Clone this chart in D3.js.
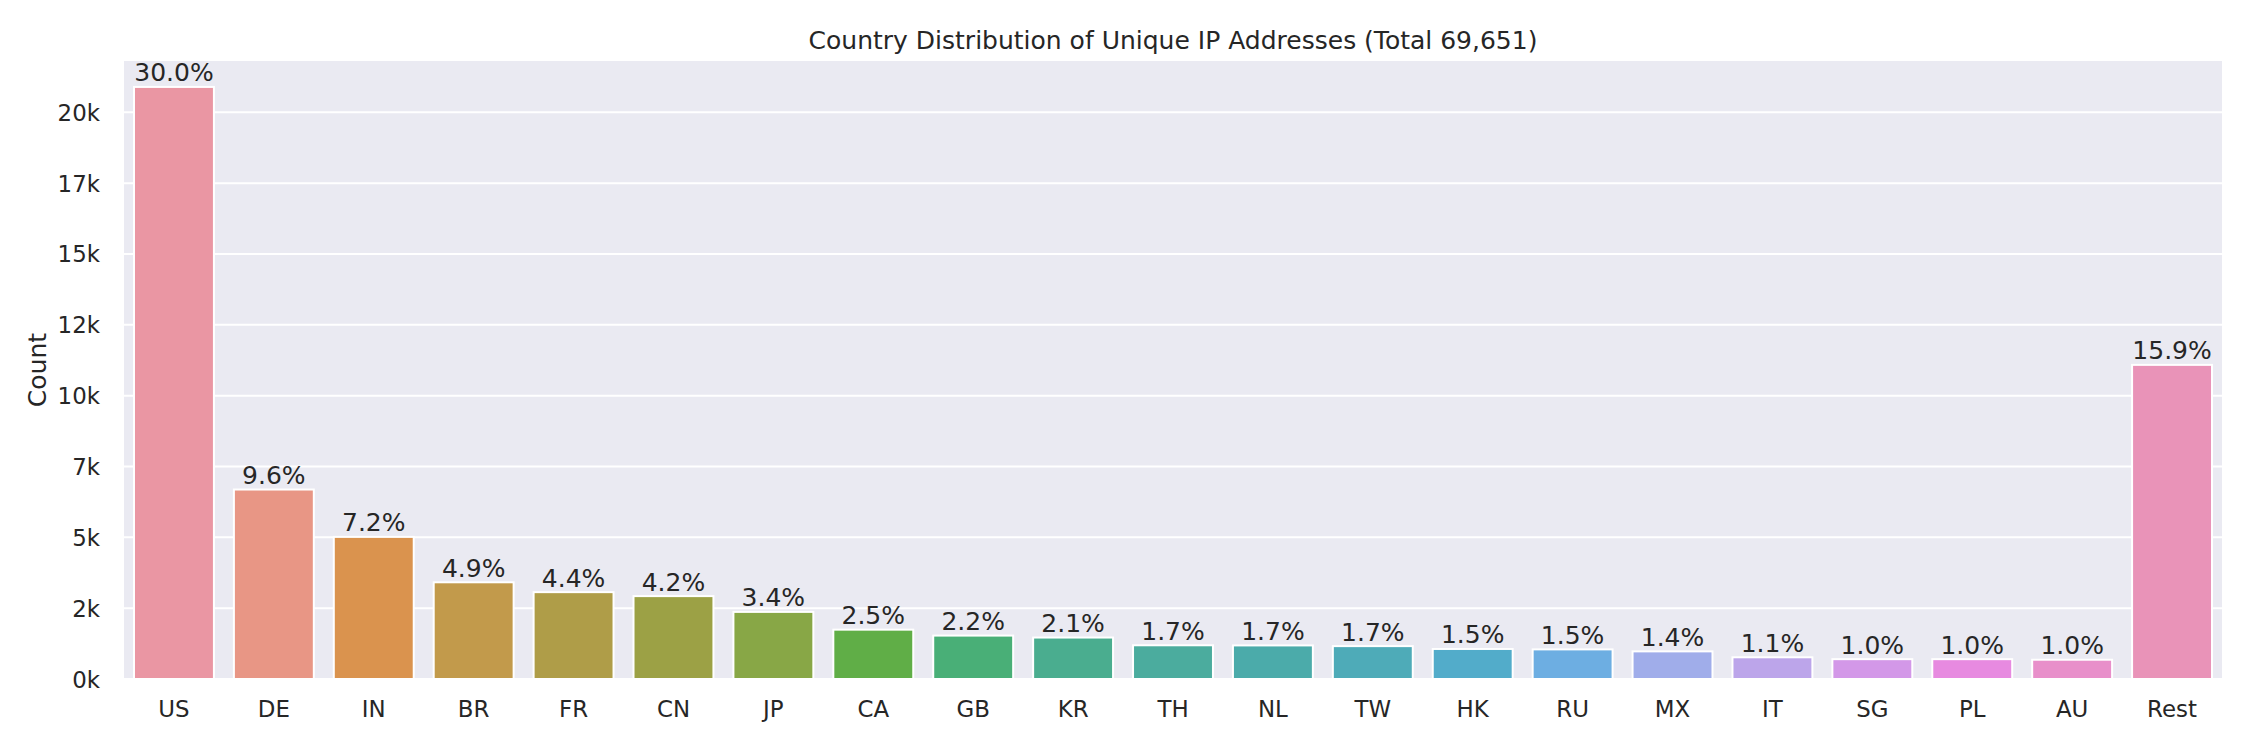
<!DOCTYPE html>
<html>
<head>
<meta charset="utf-8">
<script src="https://cdn.jsdelivr.net/npm/d3@7"></script>
<style>
  html, body { margin: 0; padding: 0; background: #ffffff; }
  svg { display: block; font-family: "DejaVu Sans", sans-serif; }
</style>
</head>
<body>
<svg id="chart" width="2250" height="750"></svg>
<script>
// ---- data ----
const categories = ["US","DE","IN","BR","FR","CN","JP","CA","GB","KR","TH","NL","TW","HK","RU","MX","IT","SG","PL","AU","Rest"];
const counts = [20895,6687,5015,3413,3065,2925,2368,1741,1532,1463,1190,1185,1160,1060,1045,975,766,700,700,680,11086];
const yTickValues = [0,2500,5000,7500,10000,12500,15000,17500,20000];
const yTickLabels = ["0k","2k","5k","7k","10k","12k","15k","17k","20k"];
const yMax = 21810;
const titleText = "Country Distribution of Unique IP Addresses (Total 69,651)";
const yLabel = "Count";

// ---- husl palette (seaborn style) ----
const M = [[3.2406,-1.5372,-0.4986],[-0.9689,1.8758,0.0415],[0.0557,-0.2040,1.0570]];
const refU = 0.19784, refV = 0.46834;
function maxChroma(L, H) {
  const hr = H * Math.PI / 180, sinH = Math.sin(hr), cosH = Math.cos(hr);
  const sub1 = Math.pow(L + 16, 3) / 1560896.0;
  const sub2 = sub1 > 0.008856 ? sub1 : L / 903.3;
  let result = Infinity;
  for (const [m1, m2, m3] of M) {
    const top = (0.99915*m1 + 1.05122*m2 + 1.14460*m3) * sub2;
    const rb = 0.86330*m3 - 0.17266*m2;
    const lb = 0.12949*m3 - 0.38848*m1;
    const bottom = (rb*sinH + lb*cosH) * sub2;
    for (const t of [0, 1]) {
      const C = L * (top - 1.05122*t) / (bottom + 0.17266*sinH*t);
      if (C > 0 && C < result) result = C;
    }
  }
  return result;
}
function fInv(t) { return Math.pow(t,3) > 0.008856 ? Math.pow(t,3) : (116*t - 16)/903.3; }
function fromLinear(c) { return c <= 0.0031308 ? 12.92*c : 1.055*Math.pow(c, 1/2.4) - 0.055; }
function huslToRgb(H, S, L) {
  const C = maxChroma(L, H) / 100 * S;
  const hr = H * Math.PI / 180;
  const U = Math.cos(hr)*C, V = Math.sin(hr)*C;
  const Y = fInv((L + 16)/116);
  const vU = U/(13*L) + refU, vV = V/(13*L) + refV;
  const X = 0 - (9*Y*vU)/((vU - 4)*vV - vU*vV);
  const Z = (9*Y - 15*vV*Y - vV*X)/(3*vV);
  return M.map(r => Math.min(1, Math.max(0, fromLinear(r[0]*X + r[1]*Y + r[2]*Z))));
}
function desaturate(rgb, prop) {
  const c = d3.hsl(d3.rgb(rgb[0]*255, rgb[1]*255, rgb[2]*255));
  c.s = c.s * prop;
  return c.formatHex();
}
function huslPalette(n, l) {
  const out = [];
  for (let i = 0; i < n; i++) {
    const h = (i / n + 0.01) % 1;
    out.push(desaturate(huslToRgb(h*359, 0.9*99, l*99), 0.75));
  }
  return out;
}
const colors = huslPalette(categories.length, 0.70);

// ---- layout ----
const W = 2250, H = 750;
const margin = {left: 124, top: 61, right: 28, bottom: 71};
const iw = W - margin.left - margin.right;
const ih = H - margin.top - margin.bottom;
const textColor = "#262626";

const svg = d3.select("#chart");
const g = svg.append("g").attr("transform", `translate(${margin.left},${margin.top})`);

const x = d3.scaleBand().domain(categories).range([0, iw]).paddingInner(0.2).paddingOuter(0.1);
const y = d3.scaleLinear().domain([0, yMax]).range([ih, 0]);
const total = d3.sum(counts);

g.append("rect").attr("width", iw).attr("height", ih).attr("fill", "#EAEAF2");

// grid
g.selectAll("line.grid").data(yTickValues).join("line")
  .attr("class", "grid")
  .attr("x1", 0).attr("x2", iw)
  .attr("y1", d => y(d)).attr("y2", d => y(d))
  .attr("stroke", "#ffffff").attr("stroke-width", 2);

// bars
const data = categories.map((c, i) => ({c, v: counts[i], col: colors[i]}));
g.selectAll("rect.bar").data(data).join("rect")
  .attr("class", "bar")
  .attr("x", d => x(d.c)).attr("width", x.bandwidth())
  .attr("y", d => y(d.v)).attr("height", d => y(0) - y(d.v))
  .attr("fill", d => d.col)
  .attr("stroke", "#ffffff").attr("stroke-width", 2);

// bar labels
g.selectAll("text.pct").data(data).join("text")
  .attr("class", "pct")
  .attr("x", d => x(d.c) + x.bandwidth()/2)
  .attr("y", d => y(d.v) - 5.5)
  .attr("text-anchor", "middle")
  .attr("font-size", 25)
  .attr("fill", textColor)
  .text(d => (d.v / total * 100).toFixed(1) + "%");

// axes
const xAxis = d3.axisBottom(x).tickSize(0).tickPadding(0);
const xg = g.append("g").attr("transform", `translate(0,${ih})`).call(xAxis);
xg.select(".domain").remove();
xg.selectAll("text").attr("font-size", 22.9).attr("fill", textColor)
  .attr("font-family", "DejaVu Sans").attr("dy", null).attr("y", 38);

const yAxis = d3.axisLeft(y).tickValues(yTickValues).tickFormat((d, i) => yTickLabels[i]).tickSize(0).tickPadding(24);
const yg = g.append("g").call(yAxis);
yg.select(".domain").remove();
yg.selectAll("text").attr("font-size", 22.9).attr("fill", textColor)
  .attr("font-family", "DejaVu Sans").attr("dy", "0.35em");

// y label
svg.append("text")
  .attr("transform", `translate(${46},${margin.top + ih/2}) rotate(-90)`)
  .attr("text-anchor", "middle")
  .attr("font-size", 25).attr("fill", textColor)
  .text(yLabel);

// title
svg.append("text")
  .attr("x", margin.left + iw/2).attr("y", margin.top - 12.5)
  .attr("text-anchor", "middle")
  .attr("font-size", 25).attr("fill", textColor)
  .text(titleText);
</script>
</body>
</html>
